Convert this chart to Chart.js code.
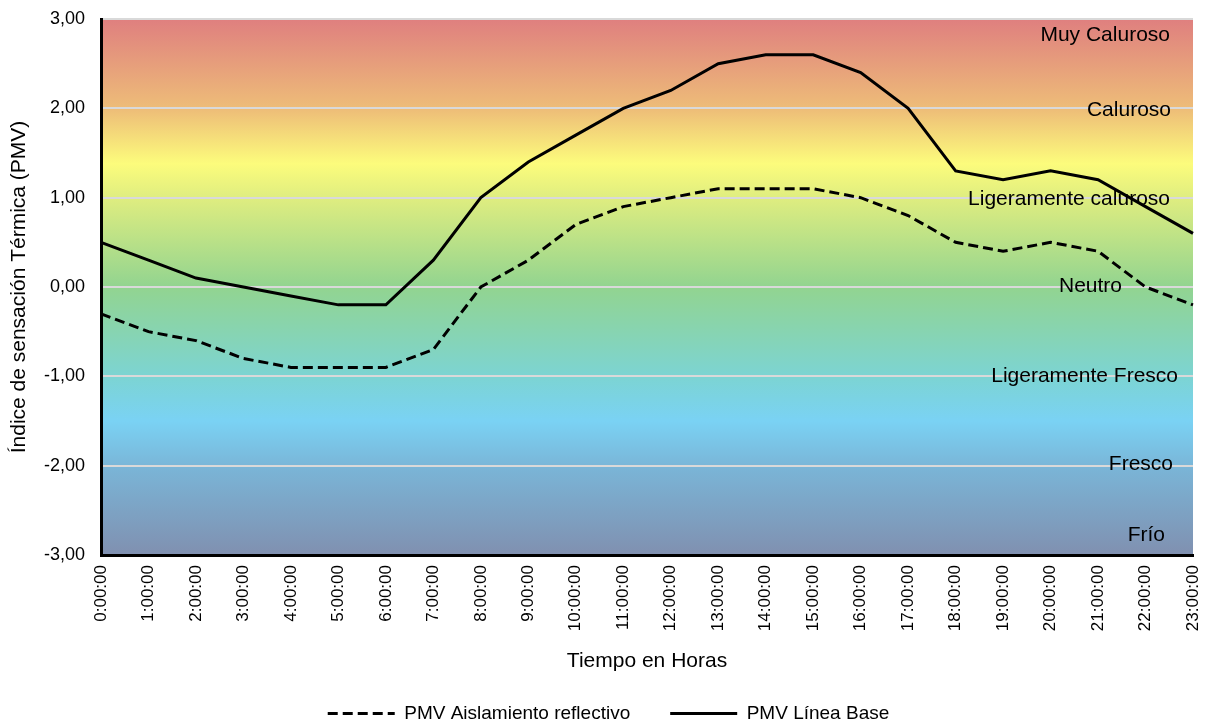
<!DOCTYPE html>
<html>
<head>
<meta charset="utf-8">
<script src="https://cdn.jsdelivr.net/npm/chart.js@4/dist/chart.umd.min.js"></script>
<style>
  html, body { margin: 0; padding: 0; background: #fff; }
  #wrap { width: 1209px; height: 722px; }
</style>
</head>
<body>
<div id="wrap"><canvas id="pmv"></canvas></div>
<script>
var horas = ['0:00:00','1:00:00','2:00:00','3:00:00','4:00:00','5:00:00','6:00:00','7:00:00',
             '8:00:00','9:00:00','10:00:00','11:00:00','12:00:00','13:00:00','14:00:00','15:00:00',
             '16:00:00','17:00:00','18:00:00','19:00:00','20:00:00','21:00:00','22:00:00','23:00:00'];

var pmvAislamiento = [-0.3, -0.5, -0.6, -0.8, -0.9, -0.9, -0.9, -0.7, 0.0, 0.3, 0.7, 0.9,
                      1.0, 1.1, 1.1, 1.1, 1.0, 0.8, 0.5, 0.4, 0.5, 0.4, 0.0, -0.2];

var pmvLineaBase = [0.5, 0.3, 0.1, 0.0, -0.1, -0.2, -0.2, 0.3, 1.0, 1.4, 1.7, 2.0,
                    2.2, 2.5, 2.6, 2.6, 2.4, 2.0, 1.3, 1.2, 1.3, 1.2, 0.9, 0.6];

// zonas de sensacion termica (texto a la derecha)
var zonas = ['Muy Caluroso', 'Caluroso', 'Ligeramente caluroso', 'Neutro', 'Ligeramente Fresco', 'Fresco', 'Frío'];
var zonasValor = [2.82, 1.98, 0.985, 0.01, -1.0, -1.98, -2.78];
var zonasMargen = [23, 22, 23, 71, 15, 20, 28];

var FONT = "'Liberation Sans', Arial, sans-serif";

var fondo = {
    id: 'fondo',
    afterLayout: function(chart) {
        // la leyenda del original esta un poco a la derecha del centro
        chart.legend.left += 12;
        chart.legend.right += 12;
    },
    beforeDraw: function(chart) {
        var ctx = chart.ctx, a = chart.chartArea;
        var g = ctx.createLinearGradient(0, a.top, 0, a.bottom);
        g.addColorStop(0.00, 'rgb(223,127,127)');
        g.addColorStop(0.17, 'rgb(238,190,120)');
        g.addColorStop(0.27, 'rgb(252,252,124)');
        g.addColorStop(0.34, 'rgb(220,236,128)');
        g.addColorStop(0.50, 'rgb(146,212,144)');
        g.addColorStop(0.67, 'rgb(124,212,212)');
        g.addColorStop(0.75, 'rgb(122,210,244)');
        g.addColorStop(0.84, 'rgb(122,180,214)');
        g.addColorStop(1.00, 'rgb(128,144,176)');
        ctx.save();
        ctx.fillStyle = g;
        ctx.fillRect(a.left, a.top, a.right - a.left, a.bottom - a.top);
        ctx.restore();
    },
    afterDatasetsDraw: function(chart) {
        var ctx = chart.ctx, a = chart.chartArea, y = chart.scales.y;
        ctx.save();
        ctx.font = '21px ' + FONT;
        ctx.fillStyle = '#000';
        ctx.textAlign = 'right';
        ctx.textBaseline = 'middle';
        for (var i = 0; i < zonas.length; i++) {
            ctx.fillText(zonas[i], a.right - zonasMargen[i], y.getPixelForValue(zonasValor[i]));
        }
        ctx.restore();
    }
};

var chart = new Chart(document.getElementById('pmv').getContext('2d'), {
    type: 'line',
    data: {
        labels: horas,
        datasets: [{
            label: 'PMV Aislamiento reflectivo',
            data: pmvAislamiento,
            borderColor: '#000',
            backgroundColor: '#000',
            borderWidth: 3,
            borderDash: [10, 5],
            pointRadius: 0,
            tension: 0
        }, {
            label: 'PMV Línea Base',
            data: pmvLineaBase,
            borderColor: '#000',
            backgroundColor: '#000',
            borderWidth: 3,
            pointRadius: 0,
            tension: 0
        }]
    },
    options: {
        responsive: true,
        maintainAspectRatio: false,
        animation: false,
        layout: { padding: { top: 19, right: 16, left: 0, bottom: -11 } },
        plugins: {
            legend: {
                position: 'bottom',
                labels: {
                    font: { family: FONT, size: 19 },
                    color: '#000',
                    usePointStyle: true,
                    pointStyle: 'line',
                    pointStyleWidth: 67,
                    boxWidth: 67,
                    padding: 40,
                    generateLabels: function(c) {
                        var items = Chart.defaults.plugins.legend.labels.generateLabels(c);
                        items.forEach(function(it) {
                            var ds = c.data.datasets[it.datasetIndex];
                            it.lineDash = ds.borderDash || [];
                            it.lineWidth = 3;
                            it.strokeStyle = '#000';
                        });
                        return items;
                    }
                }
            },
            tooltip: { enabled: false }
        },
        scales: {
            x: {
                offset: false,
                grid: { display: false, drawTicks: false },
                border: { display: true, color: '#000', width: 3 },
                ticks: {
                    color: '#000',
                    font: { family: FONT, size: 17 },
                    maxRotation: 90,
                    minRotation: 90,
                    autoSkip: false,
                    padding: 10
                },
                title: {
                    display: true,
                    text: 'Tiempo en Horas',
                    color: '#000',
                    font: { family: FONT, size: 21 },
                    padding: { top: 0, bottom: -10 }
                },
                afterFit: function(s) {
                    s.height = 109;
                    s.paddingLeft = 0;
                    s.paddingRight = 0;
                }
            },
            y: {
                min: -3,
                max: 3,
                grid: { color: '#d9d9d9', lineWidth: 2, drawTicks: false },
                border: { display: true, color: '#000', width: 3 },
                ticks: {
                    stepSize: 1,
                    color: '#000',
                    font: { family: FONT, size: 18 },
                    padding: 16,
                    callback: function(v) { return v.toFixed(2).replace('.', ','); }
                },
                title: {
                    display: true,
                    text: 'Índice de sensación Térmica (PMV)',
                    color: '#000',
                    font: { family: FONT, size: 21 },
                    padding: { top: 7, bottom: 0 }
                },
                afterFit: function(s) {
                    s.width = 101;
                    s.paddingTop = 0;
                    s.paddingBottom = 0;
                }
            }
        }
    },
    plugins: [fondo]
});
</script>
</body>
</html>
